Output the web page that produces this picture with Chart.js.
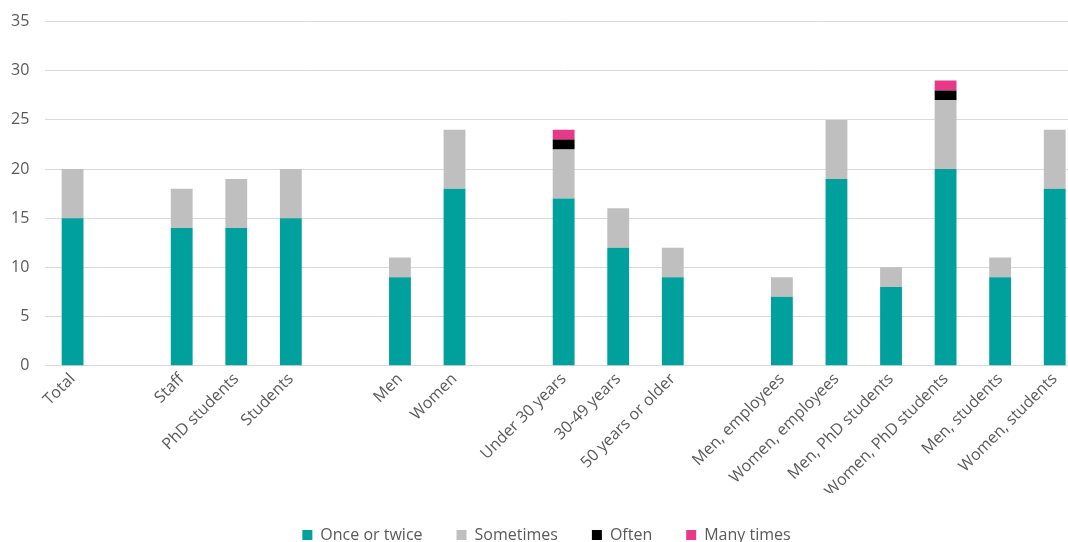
<!DOCTYPE html>
<html>
<head>
<meta charset="utf-8">
<script src="https://cdn.jsdelivr.net/npm/chart.js@4.4.1/dist/chart.umd.min.js"></script>
<style>
  html, body { margin: 0; padding: 0; background: #fff; overflow: hidden; }
  #wrap { width: 1107px; height: 557px; position: relative; margin-left: -15px; margin-top: -4px; }
</style>
</head>
<body>
<div id="wrap"><canvas id="chart"></canvas></div>
<script>
// empty labels leave a gap between the groups
const categories = [
  'Total', '',
  'Staff', 'PhD students', 'Students', '',
  'Men', 'Women', '',
  'Under 30 years', '30-49 years', '50 years or older', '',
  'Men, employees', 'Women, employees', 'Men, PhD students',
  'Women, PhD students', 'Men, students', 'Women, students'
];
const onceOrTwice = [15, null, 14, 14, 15, null, 9, 18, null, 17, 12, 9, null, 7, 19, 8, 20, 9, 18];
const sometimes   = [5, null, 4, 5, 5, null, 2, 6, null, 5, 4, 3, null, 2, 6, 2, 7, 2, 6];
const often       = [0, null, 0, 0, 0, null, 0, 0, null, 1, 0, 0, null, 0, 0, 0, 1, 0, 0];
const manyTimes   = [0, null, 0, 0, 0, null, 0, 0, null, 1, 0, 0, null, 0, 0, 0, 1, 0, 0];
const yTicks = [0, 5, 10, 15, 20, 25, 30, 35];

const textColor = '#595959';
const font = { family: "'Open Sans', sans-serif", size: 16 };

function series(label, data, color) {
  return {
    label: label,
    data: data,
    backgroundColor: color,
    borderWidth: 0,
    categoryPercentage: 1,
    barPercentage: 0.4
  };
}

// nudge the legend a little to the right of the plot centre
const legendShift = {
  id: 'legendShift',
  beforeDraw(chart) {
    chart.legend.left += 8;
    chart.legend.right += 8;
  }
};

new Chart(document.getElementById('chart'), {
  type: 'bar',
  data: {
    labels: categories,
    datasets: [
      series('Once or twice', onceOrTwice, '#00a09d'),
      series('Sometimes', sometimes, '#bfbfbf'),
      series('Often', often, '#000000'),
      series('Many times', manyTimes, '#e8388a')
    ]
  },
  plugins: [legendShift],
  options: {
    responsive: true,
    maintainAspectRatio: false,
    animation: false,
    layout: { padding: { top: 6, left: 10, right: 10, bottom: 0 } },
    plugins: {
      tooltip: { enabled: false },
      legend: {
        position: 'bottom',
        labels: {
          color: textColor,
          font: font,
          boxWidth: 10,
          boxHeight: 10,
          padding: 34
        }
      }
    },
    scales: {
      x: {
        stacked: true,
        grid: { display: false, drawTicks: false },
        border: { color: '#d9d9d9', width: 1 },
        afterFit: scale => { scale.height -= 12; },
        ticks: {
          color: textColor,
          font: font,
          maxRotation: 45,
          minRotation: 45,
          autoSkip: false,
          padding: 4
        }
      },
      y: {
        stacked: true,
        min: 0,
        max: 35,
        afterBuildTicks: axis => { axis.ticks = yTicks.map(v => ({ value: v })); },
        grid: { color: '#d9d9d9', drawTicks: false },
        border: { display: false },
        ticks: {
          color: textColor,
          font: font,
          padding: 16
        }
      }
    }
  }
});
</script>
</body>
</html>
